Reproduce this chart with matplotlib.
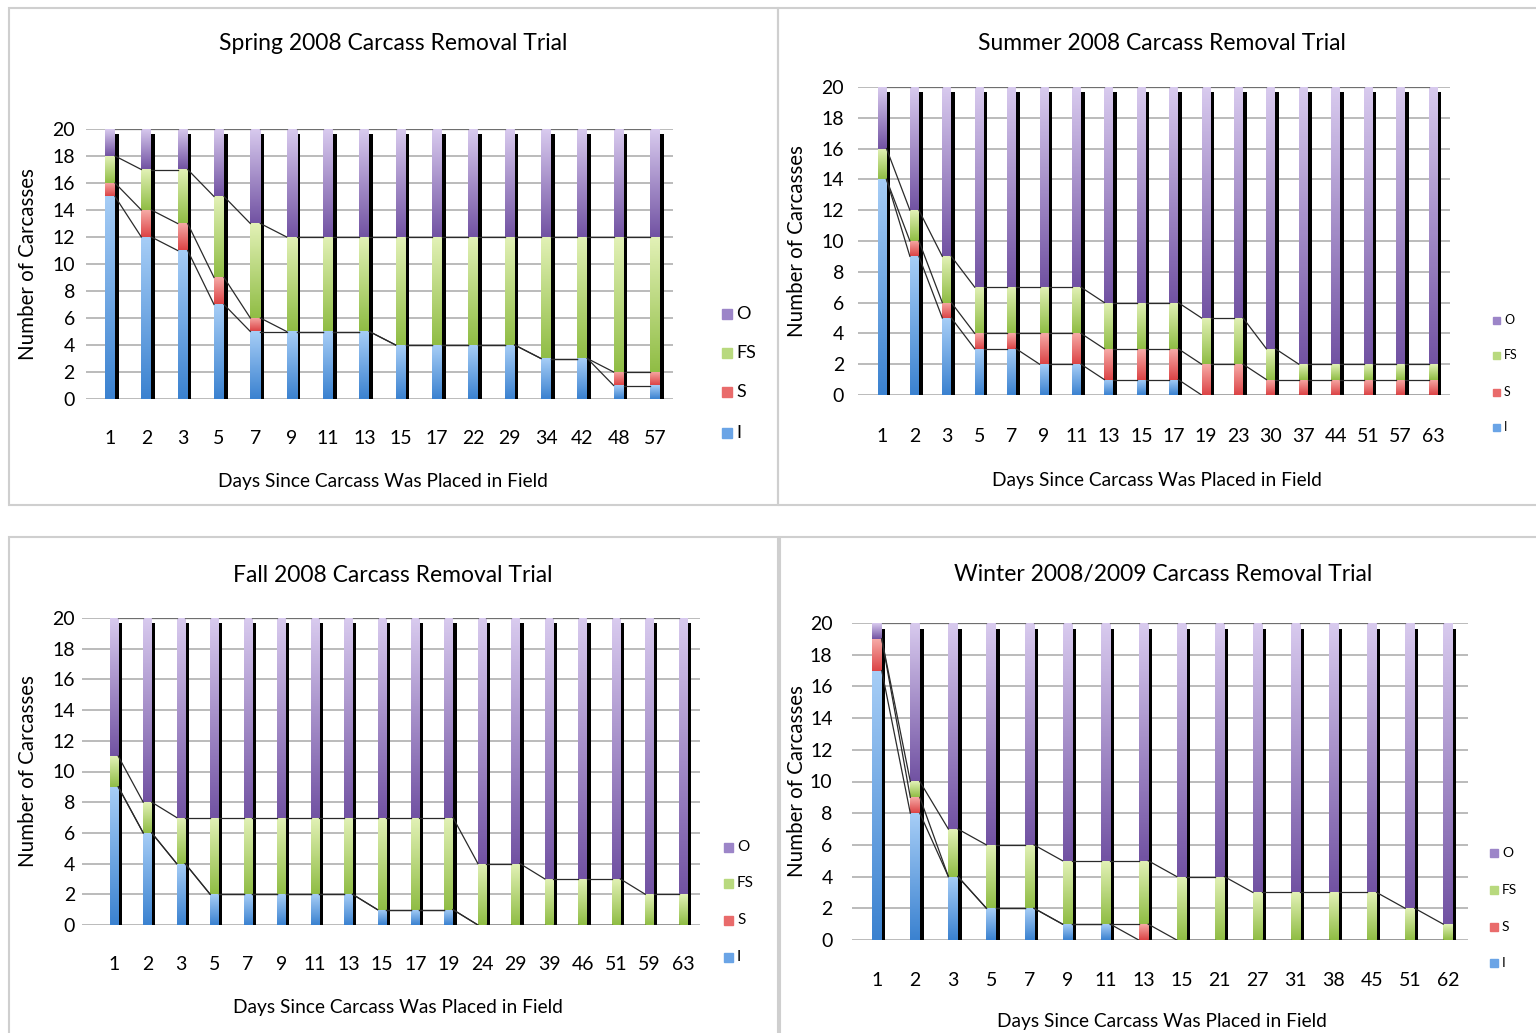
import numpy as np
import matplotlib.pyplot as plt
from matplotlib.colors import LinearSegmentedColormap
from matplotlib.patches import Rectangle

plt.rcParams['font.family'] = ['Lato', 'DejaVu Sans']

W, H = 1536, 1033

# ---- data (number of carcasses in each state, 20 placed per trial) ----
spring_days = ['1', '2', '3', '5', '7', '9', '11', '13', '15', '17', '22', '29', '34', '42', '48', '57']
spring_i = [15, 12, 11, 7, 5, 5, 5, 5, 4, 4, 4, 4, 3, 3, 1, 1]
spring_s = [1, 2, 2, 2, 1, 0, 0, 0, 0, 0, 0, 0, 0, 0, 1, 1]
spring_fs = [2, 3, 4, 6, 7, 7, 7, 7, 8, 8, 8, 8, 9, 9, 10, 10]
spring_o = [2, 3, 3, 5, 7, 8, 8, 8, 8, 8, 8, 8, 8, 8, 8, 8]

summer_days = ['1', '2', '3', '5', '7', '9', '11', '13', '15', '17', '19', '23', '30', '37', '44', '51', '57', '63']
summer_i = [14, 9, 5, 3, 3, 2, 2, 1, 1, 1, 0, 0, 0, 0, 0, 0, 0, 0]
summer_s = [0, 1, 1, 1, 1, 2, 2, 2, 2, 2, 2, 2, 1, 1, 1, 1, 1, 1]
summer_fs = [2, 2, 3, 3, 3, 3, 3, 3, 3, 3, 3, 3, 2, 1, 1, 1, 1, 1]
summer_o = [4, 8, 11, 13, 13, 13, 13, 14, 14, 14, 15, 15, 17, 18, 18, 18, 18, 18]

fall_days = ['1', '2', '3', '5', '7', '9', '11', '13', '15', '17', '19', '24', '29', '39', '46', '51', '59', '63']
fall_i = [9, 6, 4, 2, 2, 2, 2, 2, 1, 1, 1, 0, 0, 0, 0, 0, 0, 0]
fall_s = [0] * 18
fall_fs = [2, 2, 3, 5, 5, 5, 5, 5, 6, 6, 6, 4, 4, 3, 3, 3, 2, 2]
fall_o = [9, 12, 13, 13, 13, 13, 13, 13, 13, 13, 13, 16, 16, 17, 17, 17, 18, 18]

winter_days = ['1', '2', '3', '5', '7', '9', '11', '13', '15', '21', '27', '31', '38', '45', '51', '62']
winter_i = [17, 8, 4, 2, 2, 1, 1, 0, 0, 0, 0, 0, 0, 0, 0, 0]
winter_s = [2, 1, 0, 0, 0, 0, 0, 1, 0, 0, 0, 0, 0, 0, 0, 0]
winter_fs = [0, 1, 3, 4, 4, 4, 4, 4, 4, 4, 3, 3, 3, 3, 2, 1]
winter_o = [1, 10, 13, 14, 14, 15, 15, 15, 16, 16, 17, 17, 17, 17, 18, 19]

series_names = ['I', 'S', 'FS', 'O']
# (bottom colour, top colour) of the gradient fill
grad_colors = {
    'I': ('#3b82d0', '#a6cdf6'),
    'S': ('#dc4446', '#f6aaa6'),
    'FS': ('#90bd45', '#e2f1b6'),
    'O': ('#7253a3', '#d8caee'),
}
legend_colors = {'I': '#6aa4e6', 'S': '#e96b6b', 'FS': '#b8d97e', 'O': '#9c85c8'}

fig = plt.figure(figsize=(W / 100, H / 100), dpi=100)


def px(x, y):
    return x / W, 1 - y / H


# panel frames
for (x0, y0, x1, y1) in [(9, 8, 778, 505), (778, 8, 1540, 505),
                         (9, 537, 778, 1040), (780, 537, 1540, 1040)]:
    fig.patches.append(Rectangle((x0 / W, 1 - y1 / H), (x1 - x0) / W, (y1 - y0) / H,
                                 transform=fig.transFigure, fill=False,
                                 edgecolor='#cfcfcf', lw=1.5))

gradient = np.linspace(0, 1, 64)[:, None]
cmaps = {k: LinearSegmentedColormap.from_list(k, v) for k, v in grad_colors.items()}


def draw_panel(cfg, days, data, title):
    n = len(days)
    gl, gr, y20, y0 = cfg['grid']
    first, last = cfg['first'], cfg['last']
    sp = (last - first) / (n - 1)
    ax = fig.add_axes([gl / W, 1 - y0 / H, (gr - gl) / W, (y0 - y20) / H])
    w = cfg['bar'] / sp
    sw = cfg['shadow'] / sp
    x = np.arange(n)

    # drop shadow
    ax.bar(x + w / 2 + sw / 2 - 0.3 / sp, 19.65, width=sw, color='black', zorder=2)

    bottom = np.zeros(n)
    levels = []
    for name in series_names:
        vals = np.array(data[name], dtype=float)
        for k in range(n):
            if vals[k] > 0:
                ax.imshow(gradient, extent=(k - w / 2, k + w / 2, bottom[k], bottom[k] + vals[k]),
                          origin='lower', cmap=cmaps[name], aspect='auto',
                          interpolation='bilinear', zorder=3)
        bottom = bottom + vals
        levels.append(bottom.copy())

    # series lines between stacked tops (the top one sits on the 20 gridline)
    for j, lv in enumerate(levels):
        col = '#2a2a2a' if j < len(levels) - 1 else '#6e6e6e'
        for k in range(n - 1):
            ax.plot([k + w / 2, k + 1 - w / 2], [lv[k], lv[k + 1]],
                    color=col, lw=0.9, zorder=4)

    ax.set_xlim((gl - first) / sp, n - 1 + (gr - last) / sp)
    ax.set_ylim(0, 20)
    ax.set_yticks(range(0, 21, 2))
    ax.set_xticks(x)
    ax.set_xticklabels(days)
    ax.grid(axis='y', color='#a8a8a8', lw=1.1, zorder=0)
    ax.set_axisbelow(True)
    for s in ax.spines.values():
        s.set_visible(False)
    ax.tick_params(length=0, labelsize=cfg['tick'])
    ax.tick_params(axis='y', pad=cfg['ypad'])
    ax.tick_params(axis='x', pad=cfg['xpad'])

    tx, ty = cfg['title']
    fig.text(*px(tx, ty), title, ha='center', va='center', fontsize=16.5)
    lx, ly = cfg['xlabel']
    fig.text(*px(lx, ly), 'Days Since Carcass Was Placed in Field', ha='center', va='center',
             fontsize=13.8)
    fig.text(*px(cfg['ylabel_x'], (y20 + y0) / 2), 'Number of Carcasses', rotation=90,
             ha='center', va='center', fontsize=14.8)

    # legend, top entry first
    sx, ys, sq, lfs = cfg['legend']
    for name, yy in zip(['O', 'FS', 'S', 'I'], ys):
        fig.patches.append(Rectangle(((sx) / W, 1 - (yy + sq / 2) / H), sq / W, sq / H,
                                     transform=fig.transFigure, color=legend_colors[name]))
        fig.text(*px(sx + sq + 4, yy), name, ha='left', va='center', fontsize=lfs)
    return ax


panels = [
    (dict(grid=(86, 673, 129, 399), first=110, last=655, bar=10, shadow=4, tick=14,
          ypad=8, xpad=22, title=(393, 43), xlabel=(383, 482), ylabel_x=28,
          legend=(722, [314, 353, 392, 433], 10, 13)),
     spring_days, dict(I=spring_i, S=spring_s, FS=spring_fs, O=spring_o),
     'Spring 2008 Carcass Removal Trial'),
    (dict(grid=(858, 1450, 87, 395), first=882, last=1433, bar=9, shadow=4, tick=14,
          ypad=10, xpad=24, title=(1162, 43), xlabel=(1157, 480), ylabel_x=797,
          legend=(1493, [320, 355, 392, 427], 7, 9)),
     summer_days, dict(I=summer_i, S=summer_s, FS=summer_fs, O=summer_o),
     'Summer 2008 Carcass Removal Trial'),
    (dict(grid=(82, 700, 618, 925), first=114, last=683, bar=8.5, shadow=4, tick=14,
          ypad=5, xpad=22, title=(393, 575), xlabel=(398, 1008), ylabel_x=28,
          legend=(724, [847, 883, 920, 957], 9, 11)),
     fall_days, dict(I=fall_i, S=fall_s, FS=fall_fs, O=fall_o),
     'Fall 2008 Carcass Removal Trial'),
    (dict(grid=(852, 1468, 623, 940), first=877, last=1448, bar=9.5, shadow=4, tick=14,
          ypad=14, xpad=23, title=(1163, 575), xlabel=(1162, 1022), ylabel_x=797,
          legend=(1490, [853, 890, 927, 963], 8, 10)),
     winter_days, dict(I=winter_i, S=winter_s, FS=winter_fs, O=winter_o),
     'Winter 2008/2009 Carcass Removal Trial'),
]

for cfg, days, data, title in panels:
    draw_panel(cfg, days, data, title)

fig.savefig('out.png', dpi=100, facecolor='white')
